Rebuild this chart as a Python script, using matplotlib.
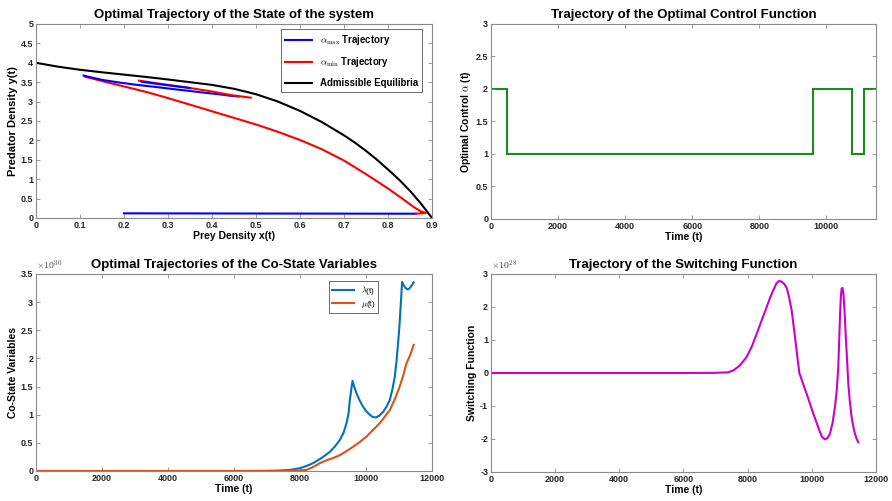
import numpy as np
import matplotlib.pyplot as plt
from matplotlib.ticker import FuncFormatter

plt.rcParams['font.family'] = ['Liberation Sans', 'DejaVu Sans']
plt.rcParams['font.weight'] = 'bold'
plt.rcParams['mathtext.fontset'] = 'cm'

# --- state plane (prey x, predator y) ---
eq_x = [0.0, 0.05, 0.1, 0.15, 0.2, 0.25, 0.3, 0.35, 0.4, 0.45, 0.5, 0.55,
        0.6, 0.65, 0.7, 0.725, 0.75, 0.775, 0.8, 0.825, 0.85, 0.875, 0.9]
eq_y = [4.0, 3.9, 3.82, 3.755, 3.695, 3.635, 3.57, 3.5, 3.43, 3.33, 3.19, 3.0,
        2.76, 2.47, 2.13, 1.94, 1.73, 1.5, 1.25, 0.99, 0.7, 0.37, 0.0]

max1_x = [0.2, 0.5, 0.863]
max1_y = [0.12, 0.115, 0.11]
min1_x = [0.863, 0.886, 0.875, 0.86, 0.83, 0.8, 0.75, 0.7, 0.65, 0.6, 0.55,
          0.5, 0.45, 0.4, 0.35, 0.3, 0.25, 0.2, 0.15, 0.112]
min1_y = [0.11, 0.13, 0.17, 0.27, 0.52, 0.76, 1.13, 1.48, 1.77, 2.01, 2.22,
          2.41, 2.58, 2.75, 2.92, 3.09, 3.25, 3.39, 3.53, 3.64]
max2_x = [0.108, 0.15, 0.19, 0.23, 0.27, 0.306, 0.345, 0.382, 0.415, 0.442, 0.46]
max2_y = [3.67, 3.56, 3.49, 3.43, 3.38, 3.33, 3.28, 3.23, 3.19, 3.15, 3.13]
min2_x = [0.234, 0.27, 0.3, 0.344, 0.4, 0.442, 0.488]
min2_y = [3.54, 3.48, 3.43, 3.36, 3.26, 3.17, 3.1]
max3_x = [0.24, 0.3, 0.35]
max3_y = [3.51, 3.42, 3.35]

# --- bang-bang control ---
t_switch = [0, 468, 9604, 10766, 11115, 11475]
alpha = [2, 1, 2, 1, 2]

# --- co-state variables ---
t_lam = [0, 2000, 4000, 6000, 7000, 7400, 7700, 7997, 8200, 8400, 8650,
         8905, 9050, 9207, 9320, 9409, 9470, 9510, 9560, 9592, 9640, 9712,
         9810, 9914, 10010, 10115, 10200, 10296, 10400, 10518, 10620, 10720,
         10800, 10871, 10925, 10972, 11010, 11043, 11070, 11093, 11140,
         11200, 11250, 11295, 11340, 11400, 11446]
lam = np.array([0, 0, 0, 0, 0.002, 0.008, 0.02, 0.05, 0.09, 0.14, 0.23,
                0.34, 0.43, 0.55, 0.68, 0.85, 1.02, 1.26, 1.48, 1.6, 1.5, 1.38,
                1.25, 1.14, 1.06, 1.0, 0.96, 0.95, 0.98, 1.05, 1.14, 1.26,
                1.45, 1.67, 1.95, 2.27, 2.55, 2.86, 3.12, 3.36, 3.3,
                3.25, 3.23, 3.23, 3.26, 3.31, 3.35]) * 1e30
t_mu = [0, 2000, 4000, 6000, 7500, 7900, 8199, 8400, 8602, 8800, 9000,
        9207, 9400, 9610, 9800, 10014, 10200, 10417, 10550, 10720, 10870,
        11022, 11130, 11225, 11340, 11446]
mu = np.array([0, 0, 0, 0, 0.001, 0.006, 0.02, 0.07, 0.14, 0.19, 0.23,
               0.28, 0.35, 0.43, 0.51, 0.61, 0.72, 0.85, 0.95, 1.08, 1.27,
               1.5, 1.7, 1.91, 2.06, 2.24]) * 1e30

# --- switching function ---
t_sw = [0, 2000, 4000, 6000, 7000, 7400, 7557, 7750, 7972, 8130, 8283,
        8440, 8595, 8700, 8802, 8900, 8979, 9060, 9140, 9217, 9280, 9373,
        9477, 9550, 9612, 9840, 10048, 10255, 10330, 10411, 10490, 10567,
        10650, 10723, 10780, 10826, 10855, 10878, 10905, 10930, 10955,
        10982, 11020, 11055, 11100, 11138, 11190, 11242, 11300, 11345,
        11400, 11449]
sw = np.array([0, 0, 0, 0, 0.005, 0.02, 0.08, 0.22, 0.49, 0.8, 1.19,
               1.6, 2.0, 2.28, 2.51, 2.72, 2.79, 2.77, 2.7, 2.58, 2.35, 1.9,
               1.09, 0.5, 0, -0.63, -1.23, -1.79, -1.95, -2.01, -1.97, -1.84,
               -1.5, -1.03, -0.5, 0.18, 1.0, 1.7, 2.3, 2.56, 2.58,
               2.45, 1.9, 1.19, 0.4, -0.32, -0.9, -1.34, -1.65, -1.84,
               -2.0, -2.1]) * 1e28

edge = '#8a8a8a'
fs_tick, fs_lab, fs_title = 6.5, 7.5, 9.5


def style(ax):
    for s in ax.spines.values():
        s.set_color(edge)
        s.set_linewidth(0.8)
    ax.tick_params(direction='in', length=3, width=0.6, color=edge,
                   labelsize=fs_tick, labelcolor='#262626', pad=2,
                   top=True, right=True)
    for lbl in ax.get_xticklabels() + ax.get_yticklabels():
        lbl.set_fontweight('bold')


fmt = FuncFormatter(lambda v, _: f'{v:g}')

fig = plt.figure(figsize=(8.92, 5.01), dpi=100)

# state trajectory
ax1 = fig.add_axes([0.0404, 0.5649, 0.4439, 0.3872])
ax1.plot(max1_x, max1_y, color='blue', lw=1.5, label=r'$\alpha_{\mathrm{max}}$ Trajectory')
ax1.plot(min1_x, min1_y, color='red', lw=1.5, label=r'$\alpha_{\mathrm{min}}$ Trajectory')
ax1.plot(max2_x, max2_y, color='blue', lw=1.5)
ax1.plot(min2_x, min2_y, color='red', lw=1.5)
ax1.plot(max3_x, max3_y, color='blue', lw=1.5)
ax1.plot(eq_x, eq_y, color='black', lw=1.5, label='Admissible Equilibria')
ax1.set_xlim(0, 0.9)
ax1.set_ylim(0, 5)
ax1.set_xticks(np.arange(0, 0.91, 0.1))
ax1.set_yticks(np.arange(0, 5.01, 0.5))
ax1.xaxis.set_major_formatter(fmt)
ax1.yaxis.set_major_formatter(fmt)
ax1.set_title('Optimal Trajectory of the State of the system',
              fontsize=fs_title, fontweight='bold', pad=4)
ax1.set_xlabel('Prey Density x(t)', fontsize=fs_lab, fontweight='bold', labelpad=1)
ax1.set_ylabel('Predator Density y(t)', fontsize=8, fontweight='bold', labelpad=2)
leg = ax1.legend(loc='upper right', bbox_to_anchor=(0.975, 0.974), borderaxespad=0,
                 fontsize=6.9, handlelength=2.9, frameon=True, fancybox=False,
                 edgecolor='#262626', labelspacing=0.9)
leg.get_frame().set_linewidth(0.6)
style(ax1)

# control
ax2 = fig.add_axes([0.5504, 0.5629, 0.4316, 0.3892])
ax2.stairs(alpha, t_switch, color='#1c8a1c', lw=1.5, baseline=None)
ax2.set_xlim(0, 11475)
ax2.set_ylim(0, 3)
ax2.set_xticks(np.arange(0, 10001, 2000))
ax2.set_yticks(np.arange(0, 3.01, 0.5))
ax2.xaxis.set_major_formatter(fmt)
ax2.yaxis.set_major_formatter(fmt)
ax2.set_title('Trajectory of the Optimal Control Function',
              fontsize=fs_title, fontweight='bold', pad=4)
ax2.set_xlabel('Time (t)', fontsize=fs_lab, fontweight='bold', labelpad=1)
ax2.set_ylabel(r'Optimal Control $\alpha$ (t)', fontsize=fs_lab, fontweight='bold', labelpad=2)
style(ax2)

# co-states
ax3 = fig.add_axes([0.0404, 0.0599, 0.4439, 0.3932])
ax3.plot(t_lam, lam, color='#0072BD', lw=1.5, label=r'$\lambda$(t)')
ax3.plot(t_mu, mu, color='#D95319', lw=1.5, label=r'$\mu$(t)')
ax3.set_xlim(0, 12000)
ax3.set_ylim(0, 3.5e30)
ax3.set_xticks(np.arange(0, 12001, 2000))
ax3.set_yticks(np.arange(0, 3.51, 0.5) * 1e30)
ax3.xaxis.set_major_formatter(fmt)
ax3.yaxis.set_major_formatter(FuncFormatter(lambda v, _: f'{v / 1e30:g}'))
ax3.text(0.0, 1.008, r'$\times10^{30}$', transform=ax3.transAxes, fontsize=7,
         color='#404040', ha='left', va='bottom')
ax3.set_title('Optimal Trajectories of the Co-State Variables',
              fontsize=fs_title, fontweight='bold', pad=4)
ax3.set_xlabel('Time (t)', fontsize=fs_lab, fontweight='bold', labelpad=1)
ax3.set_ylabel('Co-State Variables', fontsize=fs_lab, fontweight='bold', labelpad=2)
leg3 = ax3.legend(loc='upper right', bbox_to_anchor=(0.864, 0.965), borderaxespad=0,
                  prop={'size': 6, 'weight': 'normal'}, handlelength=2.7,
                  labelspacing=0.25, borderpad=0.35,
                  fancybox=False, edgecolor='#262626')
leg3.get_frame().set_linewidth(0.6)
style(ax3)

# switching function
ax4 = fig.add_axes([0.5504, 0.0579, 0.4316, 0.3952])
ax4.plot(t_sw, sw, color='#CC00CC', lw=1.5)
ax4.set_xlim(0, 12000)
ax4.set_ylim(-3e28, 3e28)
ax4.set_xticks(np.arange(0, 12001, 2000))
ax4.set_yticks(np.arange(-3, 3.01, 1) * 1e28)
ax4.xaxis.set_major_formatter(fmt)
ax4.yaxis.set_major_formatter(FuncFormatter(lambda v, _: f'{v / 1e28:g}'))
ax4.text(0.0, 1.008, r'$\times10^{28}$', transform=ax4.transAxes, fontsize=7,
         color='#404040', ha='left', va='bottom')
ax4.set_title('Trajectory of the Switching Function',
              fontsize=fs_title, fontweight='bold', pad=4)
ax4.set_xlabel('Time (t)', fontsize=fs_lab, fontweight='bold', labelpad=1)
ax4.set_ylabel('Switching Function', fontsize=fs_lab, fontweight='bold', labelpad=2)
style(ax4)

fig.savefig('out.png', dpi=100)
